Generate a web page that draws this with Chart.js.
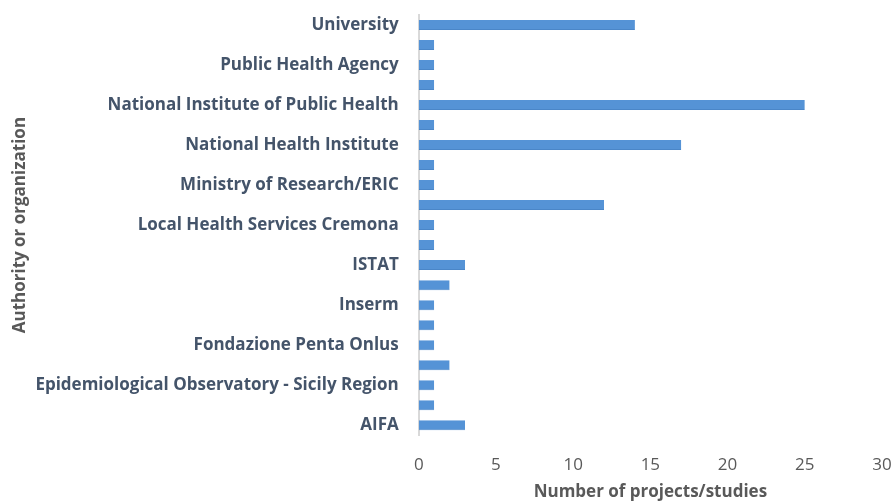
<!DOCTYPE html>
<html>
<head>
<meta charset="utf-8">
<script src="https://cdn.jsdelivr.net/npm/chart.js@4"></script>
<style>
    html, body { margin: 0; padding: 0; background: #fff; }
    #wrap { width: 895px; height: 502px; position: relative; }
</style>
</head>
<body>
<div id="wrap"><canvas id="chart-authorities"></canvas></div>
<script>
// categories, top to bottom (only every other one is labelled in the original)
const categories = [
    "University",
    "",
    "Public Health Agency",
    "",
    "National Institute of Public Health",
    "",
    "National Health Institute",
    "",
    "Ministry of Research/ERIC",
    "",
    "Local Health Services Cremona",
    "",
    "ISTAT",
    "",
    "Inserm",
    "",
    "Fondazione Penta Onlus",
    "",
    "Epidemiological Observatory - Sicily Region",
    "",
    "AIFA",
];
const projectCounts = [14, 1, 1, 1, 25, 1, 17, 1, 1, 12, 1, 1, 3, 2, 1, 1, 1, 2, 1, 1, 3];
const xTicks = [0, 5, 10, 15, 20, 25, 30];

const font = "'Open Sans', 'DejaVu Sans', sans-serif";

new Chart(document.getElementById("chart-authorities"), {
    type: "bar",
    data: {
        labels: categories,
        datasets: [
            {
                label: "Number of projects/studies",
                data: projectCounts,
                backgroundColor: "#5593d6",
                borderColor: "#4a86c8",
                borderWidth: { top: 0, bottom: 1, left: 0, right: 0 },
                barPercentage: 1,
                categoryPercentage: 0.5,
            },
        ],
    },
    options: {
        indexAxis: "y",
        responsive: true,
        maintainAspectRatio: false,
        animation: false,
        layout: { padding: { top: 15, right: 13, left: 10, bottom: 0 } },
        plugins: {
            legend: { display: false },
            tooltip: { enabled: false },
        },
        scales: {
            x: {
                min: xTicks[0],
                max: xTicks[xTicks.length - 1],
                afterBuildTicks: (axis) => {
                    axis.ticks = xTicks.map((v) => ({ value: v }));
                },
                // chart.js counts tick padding twice, drop the outer one
                afterFit: (axis) => {
                    const pad = axis.options.ticks.padding;
                    axis.height -= pad;
                    axis.paddingLeft = Math.max(axis.paddingLeft - pad, 0);
                    axis.paddingRight = Math.max(axis.paddingRight - pad, 0);
                },
                ticks: {
                    color: "#595959",
                    font: { family: font, size: 17 },
                    padding: 20,
                },
                grid: { display: false, drawTicks: false },
                border: { display: false },
                title: {
                    display: true,
                    text: "Number of projects/studies",
                    color: "#595959",
                    font: { family: font, size: 17, weight: "bold" },
                    padding: { top: 6, bottom: 0 },
                },
            },
            y: {
                afterFit: (axis) => {
                    axis.width -= axis.options.ticks.padding;
                    axis.paddingTop = 0;
                    axis.paddingBottom = 0;
                },
                ticks: {
                    autoSkip: false,
                    color: "#44546a",
                    font: { family: font, size: 17, weight: "bold" },
                    padding: 20,
                },
                grid: { display: false, drawTicks: false },
                border: { display: true, color: "#d9d9d9", width: 2 },
                title: {
                    display: true,
                    text: "Authority or organization",
                    color: "#595959",
                    font: { family: font, size: 17, weight: "bold" },
                    padding: { top: 0, bottom: 5 },
                },
            },
        },
    },
});
</script>
</body>
</html>
